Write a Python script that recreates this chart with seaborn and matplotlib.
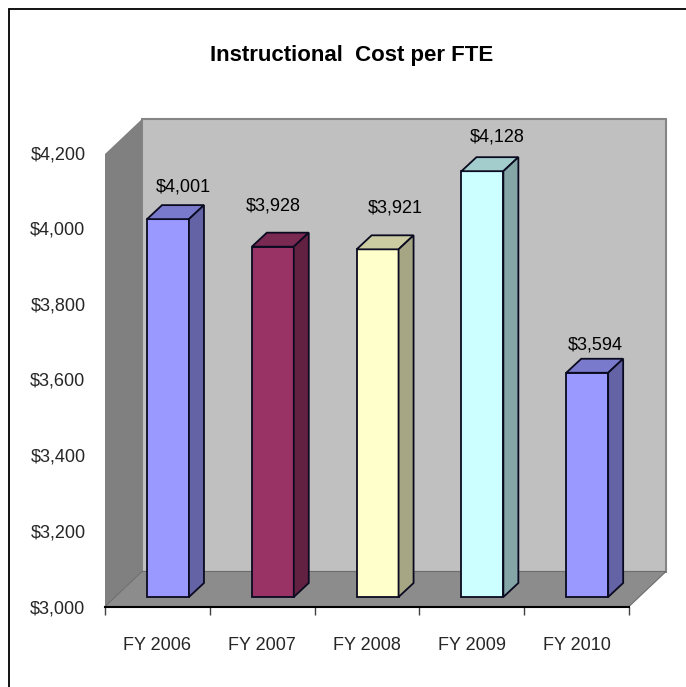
# plot.py
#
# Instructional cost per FTE, drawn as a fake 3D column chart.
# The front faces are a seaborn barplot, walls and bar depth are added as polygons.

import numpy as np
import matplotlib
matplotlib.use("Agg")   # headless
import matplotlib.pyplot as plt
import seaborn as sns
from matplotlib.colors import to_rgb
from matplotlib.lines import Line2D
from matplotlib.patches import Polygon
from matplotlib.transforms import IdentityTransform

# ── Data ──────────────────────────────────────────────────────────────────────
YEARS  = ["FY 2006", "FY 2007", "FY 2008", "FY 2009", "FY 2010"]
COSTS  = [4001, 3928, 3921, 4128, 3594]
Y_TICKS = [3000, 3200, 3400, 3600, 3800, 4000, 4200]
TITLE  = "Instructional  Cost per FTE"

# ── Style ─────────────────────────────────────────────────────────────────────
BAR_COLORS = ["#9999FF", "#993366", "#FFFFCC", "#CCFFFF", "#9999FF"]
WALL_BACK  = "#C0C0C0"
WALL_SIDE  = "#808080"
FLOOR      = "#8C8C8C"
EDGE       = "#0A0A20"
FONT       = ["Liberation Sans", "DejaVu Sans"]
TEXT_SIZE  = 13

W, H = 686, 687
WALL_DX, WALL_DY = 37, 35     # depth of the chart box, px
WALL_TOP_TRIM    = 1.5        # walls stop just under the top tick, px
BAR_DX, BAR_DY   = 15, 14     # depth of each column, px
# label offset from the column's top-centre, px
LABEL_DX = [15, 1, 18, 15, 8]
LABEL_DY = [32, 41, 41, 34, 28]


def px_axes(fig, left, top, right, bottom):
    """Axes placed by pixel edges measured from the top-left of the figure."""
    return fig.add_axes([left / W, 1 - bottom / H, (right - left) / W, (bottom - top) / H])


def poly(points, color, edge="none", lw=0.0, zorder=1):
    return Polygon(points, closed=True, facecolor=color, edgecolor=edge, linewidth=lw,
                   transform=IdentityTransform(), zorder=zorder, clip_on=False)


def draw_walls(fig, ax):
    (x0, y0), (x1, y1) = ax.get_window_extent().get_points()
    y1 -= WALL_TOP_TRIM
    dx, dy = WALL_DX, WALL_DY
    fig.add_artist(poly([(x0 + dx, y0 + dy), (x1 + dx, y0 + dy), (x1 + dx, y1 + dy), (x0 + dx, y1 + dy)],
                        WALL_BACK, edge="#858585", lw=1.5, zorder=-3))
    fig.add_artist(poly([(x0, y0), (x0 + dx, y0 + dy), (x0 + dx, y1 + dy), (x0, y1)],
                        WALL_SIDE, zorder=-2))
    fig.add_artist(poly([(x0, y0), (x1, y0), (x1 + dx, y0 + dy), (x0 + dx, y0 + dy)],
                        FLOOR, edge="#6E6E6E", lw=0.8, zorder=-2))


def draw_columns(ax):
    sns.barplot(x=YEARS, y=COSTS, hue=YEARS, palette=BAR_COLORS, legend=False, saturation=1,
                width=0.4, edgecolor=EDGE, linewidth=1.3, ax=ax)
    ax.set_xlim(-0.5, len(YEARS) - 0.5)
    ax.set_ylim(Y_TICKS[0], Y_TICKS[-1])
    ax.patch.set_alpha(0)
    ax.axis("off")

    for i, bar in enumerate(ax.patches):
        # start each column at the axis floor so the bottom edge is not clipped
        bar.set_y(Y_TICKS[0])
        bar.set_height(COSTS[i] - Y_TICKS[0])
        bar.set_clip_on(False)

        (x0, y0), (x1, y1) = bar.get_window_extent().get_points()
        rgb = np.array(to_rgb(BAR_COLORS[i]))
        ax.add_artist(poly([(x0, y1), (x1, y1), (x1 + BAR_DX, y1 + BAR_DY), (x0 + BAR_DX, y1 + BAR_DY)],
                           rgb * 0.8, edge=EDGE, lw=1.3, zorder=3))
        ax.add_artist(poly([(x1, y0), (x1 + BAR_DX, y0 + BAR_DY), (x1 + BAR_DX, y1 + BAR_DY), (x1, y1)],
                           rgb * 0.65, edge=EDGE, lw=1.3, zorder=3))

        fig_x = (x0 + x1) / 2 + LABEL_DX[i]
        fig_y = y1 + LABEL_DY[i]
        ax.annotate(f"${COSTS[i]:,}", xy=(fig_x, fig_y), xycoords="figure pixels",
                    ha="center", va="center", fontsize=TEXT_SIZE, color="black", annotation_clip=False)


def draw_front_axis(ax):
    ax.patch.set_alpha(0)
    ax.set_xlim(-0.5, len(YEARS) - 0.5)
    ax.set_ylim(Y_TICKS[0], Y_TICKS[-1])
    sns.despine(ax=ax, left=True, top=True, right=True)
    ax.spines["bottom"].set_color("black")
    ax.spines["bottom"].set_linewidth(1.5)

    ax.set_yticks(Y_TICKS)
    ax.set_yticklabels([f"${v:,}" for v in Y_TICKS], fontsize=TEXT_SIZE)
    ax.tick_params(axis="y", length=0, pad=14)

    # group boundaries carry the tick marks, labels sit between them
    ax.set_xticks(np.arange(len(YEARS) + 1) - 0.5)
    ax.set_xticklabels([])
    ax.set_xticks(np.arange(len(YEARS)), labels=YEARS, minor=True, fontsize=TEXT_SIZE)
    ax.tick_params(axis="x", which="major", length=5.5, width=1, color="#404040", bottom=True)
    ax.tick_params(axis="x", which="minor", length=0, pad=22, bottom=True)


def main():
    sns.set_theme(style="white")
    plt.rcParams["font.family"] = FONT

    fig = plt.figure(figsize=(W / 100, H / 100), dpi=100, facecolor="white")

    ax_front = px_axes(fig, 105, 152.5, 629, 606.5)
    ax_bars  = px_axes(fig, 115.6, 144, 639.6, 597)
    ax_bars.set_zorder(2)
    fig.canvas.draw()

    draw_walls(fig, ax_front)
    draw_front_axis(ax_front)
    draw_columns(ax_bars)

    fig.text(352 / W, 1 - 55 / H, TITLE, ha="center", va="center",
             fontsize=16, fontweight="bold", color="black")

    # outer frame: only the left and top edges are visible in the picture
    frame = dict(color="black", linewidth=1.3, transform=fig.transFigure)
    fig.add_artist(Line2D([8.5 / W, 8.5 / W], [0, 1 - 8.5 / H], **frame))
    fig.add_artist(Line2D([8.5 / W, 1], [1 - 8.5 / H, 1 - 8.5 / H], **frame))

    fig.savefig("out.png", dpi=100, facecolor="white")
    plt.close(fig)


if __name__ == "__main__":
    main()
